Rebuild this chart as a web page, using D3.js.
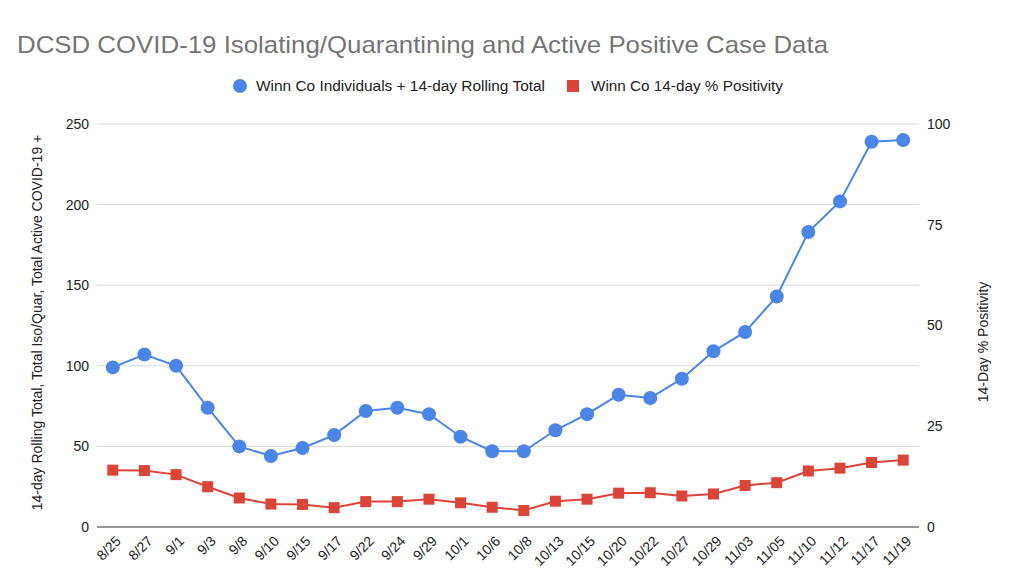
<!DOCTYPE html>
<html><head><meta charset="utf-8">
<script src="https://cdn.jsdelivr.net/npm/d3@7"></script>
<style>body{margin:0;background:#fff}svg{display:block;font-family:Arial,"Liberation Sans",sans-serif}</style>
</head><body><svg id="c" width="1024" height="583"></svg>
<script>
const categories = ["8/25","8/27","9/1","9/3","9/8","9/10","9/15","9/17","9/22","9/24","9/29","10/1","10/6","10/8","10/13","10/15","10/20","10/22","10/27","10/29","11/03","11/05","11/10","11/12","11/17","11/19"];
const individuals = [99,107,100,74,50,44,49,57,72,74,70,56,47,47,60,70,82,80,92,109,121,143,183,202,239,240];
const positivity = [14.1,14,13,10,7.2,5.7,5.6,4.8,6.3,6.3,6.9,6,4.9,4.1,6.4,6.9,8.4,8.5,7.7,8.2,10.3,11,13.9,14.6,16,16.6];
const leftTicks = [0,50,100,150,200,250];
const rightTicks = [0,25,50,75,100];
const title = "DCSD COVID-19 Isolating/Quarantining and Active Positive Case Data";
const seriesNames = ["Winn Co Individuals + 14-day Rolling Total","Winn Co 14-day % Positivity"];
const leftTitle = "14-day Rolling Total, Total Iso/Quar, Total Active COVID-19 +";
const rightTitle = "14-Day % Positivity";

const FONT = 'Arial,"Liberation Sans",sans-serif';
const blue = "#4a86e8", red = "#db4437";
const svg = d3.select("#c");
const L = 97, R = 919, T = 124, B = 527;
const x = d3.scaleBand().domain(categories).range([L, R]);
const yL = d3.scaleLinear().domain([0,250]).range([B, T]);
const yR = d3.scaleLinear().domain([0,100]).range([B, T]);

svg.append("text").attr("x",17).attr("y",53).attr("font-size",24).attr("fill","#757575")
  .attr("textLength",811).attr("lengthAdjust","spacingAndGlyphs").text(title);

// legend
const lg = svg.append("g").attr("font-size",14).attr("fill","#222");
lg.append("circle").attr("cx",240).attr("cy",86).attr("r",7).attr("fill",blue);
lg.append("text").attr("x",256).attr("y",91).attr("textLength",289).attr("lengthAdjust","spacingAndGlyphs").text(seriesNames[0]);
lg.append("rect").attr("x",567).attr("y",80).attr("width",12).attr("height",12).attr("fill",red);
lg.append("text").attr("x",591).attr("y",91).attr("textLength",192).attr("lengthAdjust","spacingAndGlyphs").text(seriesNames[1]);

// gridlines
svg.append("g").selectAll("line").data(leftTicks.filter(d=>d>0)).join("line")
  .attr("x1",L).attr("x2",R).attr("y1",d=>yL(d)).attr("y2",d=>yL(d))
  .attr("stroke","#d9d9d9").attr("stroke-width",1);

// left axis
const la = svg.append("g").attr("transform",`translate(${L},0)`)
  .call(d3.axisLeft(yL).tickValues(leftTicks).tickSize(0).tickPadding(8));
la.select(".domain").remove();
la.selectAll("text").attr("font-size",14).attr("fill","#222").attr("font-family",FONT);

// right axis
const ra = svg.append("g").attr("transform",`translate(${R},0)`)
  .call(d3.axisRight(yR).tickValues(rightTicks).tickSize(0).tickPadding(8));
ra.select(".domain").remove();
ra.selectAll("text").attr("font-size",14).attr("fill","#222").attr("font-family",FONT);

// baseline
svg.append("line").attr("x1",L).attr("x2",R).attr("y1",B).attr("y2",B).attr("stroke","#333").attr("stroke-width",1.2);

// x axis
const xa = svg.append("g").attr("transform",`translate(0,${B})`)
  .call(d3.axisBottom(x).tickSize(0).tickPadding(0));
xa.select(".domain").remove();
xa.selectAll("text").attr("font-size",14).attr("fill","#222").attr("font-family",FONT)
  .attr("text-anchor","end").attr("dy",0)
  .attr("transform","translate(9,15) rotate(-45)");

// axis titles
svg.append("text").attr("transform",`translate(42,${(T+B)/2 - 3}) rotate(-90)`).attr("text-anchor","middle")
  .attr("font-size",14).attr("fill","#222").text(leftTitle);
svg.append("text").attr("transform",`translate(988,342) rotate(-90)`).attr("text-anchor","middle")
  .attr("font-size",14).attr("fill","#222").text(rightTitle);

const cx = d => x(d) + x.bandwidth()/2;
// red series
svg.append("path").datum(positivity).attr("fill","none").attr("stroke",red).attr("stroke-width",2)
  .attr("d", d3.line().x((d,i)=>cx(categories[i])).y(d=>yR(d)));
svg.append("g").selectAll("rect").data(positivity).join("rect")
  .attr("x",(d,i)=>cx(categories[i])-5.5).attr("y",d=>yR(d)-5.5).attr("width",11).attr("height",11).attr("fill",red);
// blue series
svg.append("path").datum(individuals).attr("fill","none").attr("stroke",blue).attr("stroke-width",2)
  .attr("d", d3.line().x((d,i)=>cx(categories[i])).y(d=>yL(d)));
svg.append("g").selectAll("circle").data(individuals).join("circle")
  .attr("cx",(d,i)=>cx(categories[i])).attr("cy",d=>yL(d)).attr("r",7).attr("fill",blue);
</script></body></html>
